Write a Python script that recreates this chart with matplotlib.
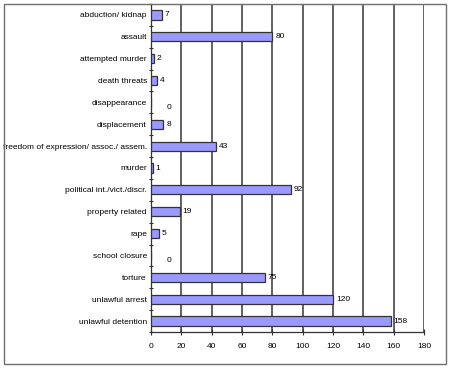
import matplotlib
matplotlib.use("Agg")
import matplotlib.pyplot as plt
from matplotlib.patches import Rectangle
import numpy as np

categories = ["abduction/ kidnap", "assault", "attempted murder", "death threats",
              "disappearance", "displacement", "freedom of expression/ assoc./ assem.",
              "murder", "political int./vict./discr.", "property related", "rape",
              "school closure", "torture", "unlawful arrest", "unlawful detention"]
values = [7, 80, 2, 4, 0, 8, 43, 1, 92, 19, 5, 0, 75, 120, 158]
xticks = [0, 20, 40, 60, 80, 100, 120, 140, 160, 180]

plt.rcParams['font.family'] = ['Liberation Sans', 'DejaVu Sans']
FS = 6.0
W, H = 450, 369
fig = plt.figure(figsize=(W/100, H/100), dpi=100)
ax = fig.add_axes([151/W, 1-332/H, (424-151)/W, (332-4)/H])

y = np.arange(len(categories))
ax.barh(y, values, height=0.42, color='#9999ff', edgecolor='#333333', linewidth=0.9, zorder=3)
for yi, v in zip(y, values):
    if v == 0:
        ax.annotate(str(v), (v, yi), xytext=(16, -5), textcoords='offset pixels',
                    va='center', ha='left', fontsize=FS, color='black')
    else:
        ax.annotate(str(v), (v, yi), xytext=(3, 0), textcoords='offset pixels',
                    va='center', ha='left', fontsize=FS, color='black')

ax.set_xlim(0, 180)
ax.set_ylim(len(categories)-0.5, -0.5)
ax.set_xticks(xticks)
ax.set_xticklabels([str(t) for t in xticks], fontsize=FS)
ax.set_yticks(y)
ax.set_yticklabels(categories, fontsize=FS)
ax.tick_params(axis='y', length=0, pad=3)
ax.set_yticks(np.arange(-0.5, len(categories), 1), minor=True)
ax.tick_params(axis='y', which='minor', length=3, direction='inout', color='#333333', width=0.8)
ax.tick_params(axis='x', length=4, direction='inout', color='#333333', width=0.8, pad=6)
ax.grid(axis='x', color='#555555', linewidth=1.3, zorder=0)
ax.set_axisbelow(True)
for s in ['top', 'right']:
    ax.spines[s].set_visible(False)
for s in ['left', 'bottom']:
    ax.spines[s].set_color('#333333')
    ax.spines[s].set_linewidth(0.9)

fig.patches.append(Rectangle((3.5/W, 1-364/H), (446-3.5)/W, (364-3.5)/H,
                             transform=fig.transFigure, fill=False,
                             edgecolor='#707070', linewidth=1.0))
fig.savefig("out.png", dpi=100)
